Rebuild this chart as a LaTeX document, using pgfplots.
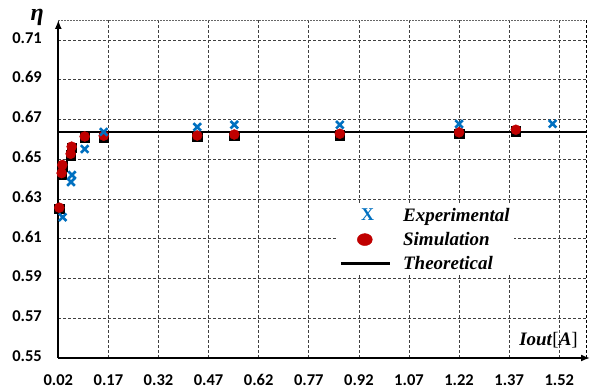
\documentclass[border=0pt]{standalone}
\usepackage{fontspec}
\usepackage{pgfplots}
\pgfplotsset{compat=1.18}
\usetikzlibrary{arrows.meta}
\setmainfont{Liberation Serif}
\newfontfamily\tickfont{Carlito}
\definecolor{expblue}{RGB}{0,112,192}
\definecolor{simred}{RGB}{192,0,0}

\pgfplotstableread{
x y
0.033 0.6208
0.058 0.6385
0.061 0.6420
0.099 0.6551
0.156 0.6637
0.436 0.6662
0.547 0.6673
0.863 0.6673
1.220 0.6677
1.500 0.6678
}\exptable

\pgfplotstableread{
x y
0.023 0.6256
0.030 0.6430
0.032 0.6471
0.057 0.6527
0.060 0.6563
0.099 0.6614
0.156 0.6618
0.436 0.6619
0.547 0.6624
0.863 0.6628
1.220 0.6635
1.390 0.6648
}\simtable

\begin{document}
\begin{tikzpicture}
\begin{axis}[
  name=ax,
  scale only axis, width=527.7pt, height=338pt,
  xmin=0.02, xmax=1.6, ymin=0.55, ymax=0.72,
  axis x line=bottom, axis y line=left,
  x axis line style={line width=1.6pt, -{Latex[length=9pt,width=7pt]}, shorten >=-4pt},
  y axis line style={line width=1.6pt, -{Latex[length=9pt,width=7pt]}},
  xtick={0.02,0.17,0.32,0.47,0.62,0.77,0.92,1.07,1.22,1.37,1.52},
  ytick={0.55,0.57,0.59,0.61,0.63,0.65,0.67,0.69,0.71},
  major tick length=0pt,
  grid=major,
  major grid style={black!75, line width=0.6pt, dash pattern=on 3pt off 2pt},
  xticklabels={0.02,0.17,0.32,0.47,0.62,0.77,0.92,1.07,1.22,1.37,1.52},
  yticklabels={0.55,0.57,0.59,0.61,0.63,0.65,0.67,0.69,0.71},
  typeset ticklabels with strut,
  tick label style={font=\tickfont\bfseries\fontsize{16.5}{16.5}\selectfont},
  xticklabel style={yshift=-12pt},
  yticklabel style={xshift=-13pt},
  legend style={at={(0.528,0.456)}, anchor=north west, draw=none, fill=white,
    font=\bfseries\itshape\fontsize{19}{21}\selectfont, row sep=5.5pt,
    inner sep=2pt},
  legend cell align=left,
  reverse legend,
  clip=false,
]
\draw[black!60, line width=0.8pt, dash pattern=on 1.5pt off 1.5pt] (rel axis cs:0,1) -- (rel axis cs:1,1);
\draw[black, line width=0.6pt, dash pattern=on 3pt off 2pt] (rel axis cs:1,0) -- (rel axis cs:1,1);

\addplot[only marks, mark=square*, mark size=4.8pt, black, forget plot,
  every mark/.append style={yshift=-1.2pt}] table[x=x,y=y] {\simtable};

\addplot[black, line width=2.6pt, no marks,
  legend image code/.code={\draw[line width=3.4pt, black] (0pt,0) -- (49pt,0); \path (0pt,0) (59pt,0);}]
  coordinates {(0.02,0.6637) (1.6,0.6637)};
\addlegendentry{Theoretical}

\addplot[only marks, mark=*, mark size=5pt, simred, mark options={draw=simred, fill=simred},
  legend image code/.code={\fill[simred] (24pt,0) ellipse (7.5pt and 6pt); \path (0pt,0) (59pt,0);}]
  table[x=x,y=y] {\simtable};
\addlegendentry{Simulation}

\addplot[only marks, mark=x, mark size=5.3pt, expblue, mark options={line width=2.6pt},
  legend image code/.code={\node[text=expblue, font=\bfseries\fontsize{18}{18}\selectfont, inner sep=0pt] at (20pt,0) {X}; \path (0pt,0) (59pt,0);}]
  table[x=x,y=y] {\exptable};
\addlegendentry{Experimental}

\node[font=\bfseries\itshape\fontsize{24}{24}\selectfont, inner sep=0pt] at (rel axis cs:0,1) [xshift=-21pt, yshift=3pt] {η};
\node[font=\fontsize{19}{19}\selectfont, anchor=east, inner sep=0pt] at (rel axis cs:1,0) [xshift=-8pt, yshift=18pt] {\textbf{\textit{Iout}}[\textbf{\textit{A}}]};
\end{axis}
\pgfresetboundingbox
\path (ax.south west) ++(-58.3pt,-32pt) rectangle ++(590pt,390pt);
\end{tikzpicture}
\end{document}
